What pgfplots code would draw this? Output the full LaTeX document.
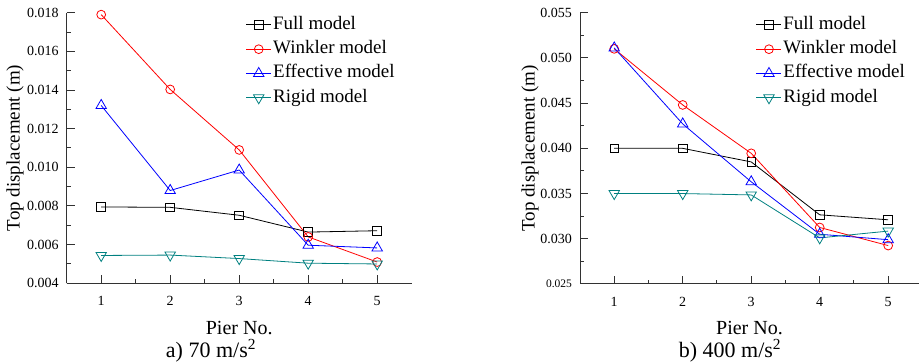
\documentclass[border=0pt]{standalone}
\usepackage{pgfplots}
\pgfplotsset{compat=1.18}
\usepackage{fontspec}
\setmainfont{Liberation Serif}
\definecolor{rigid}{RGB}{0,128,128}
\definecolor{axgray}{RGB}{50,50,50}
\newcommand{\fs}[1]{\fontsize{#1}{#1}\selectfont}

\pgfplotsset{
  mystyle/.style={
    scale only axis,
    axis x line*=bottom, axis y line*=left,
    axis line style={axgray, line width=1pt, -},
    every tick/.style={axgray, line width=1pt},
    tick align=inside,
    major tick length=8pt, minor tick length=4pt,
    minor x tick num=1, minor y tick num=1,
    xmin=0.5, xtick={1,2,3,4,5},
    scaled y ticks=false,
    /pgf/number format/assume math mode=true,
    tick label style={font=\fs{14}},
    y tick label style={/pgf/number format/fixed, /pgf/number format/fixed zerofill, /pgf/number format/precision=3, xshift=-4.5pt},
    x tick label style={yshift=-9.5pt},
    xlabel={Pier No.},
    ylabel={Top displacement (m)},
    xlabel style={font=\fs{20}, at={(axis description cs:0.5,0)}, anchor=center, yshift=-44.5pt},
    ylabel style={font=\fs{19}, anchor=center},
    legend cell align=left,
    legend style={draw=none, fill=none, font=\fs{19}, row sep=4.3pt,
      nodes={inner sep=1.5pt, text height=13pt, text depth=4pt}, anchor=north west},
    legend image code/.code={\draw[mark repeat=2,mark phase=2] plot coordinates {(0pt,0pt) (12.5pt,0pt) (25pt,0pt)};},
    every axis plot/.append style={line width=0.8pt},
  },
  fullm/.style={black, mark=square, mark size=4.3pt, mark options={fill=white, solid}},
  wink/.style={red, mark=o, mark size=4.4pt, mark options={fill=white, solid}},
  effm/.style={blue, mark=triangle, mark size=6pt, mark options={fill=white, solid}},
  rigm/.style={rigid, mark=triangle, mark size=6pt, mark options={fill=white, solid, rotate=180}},
}

\begin{document}
\begin{tikzpicture}[x=1pt,y=1pt]
\begin{axis}[mystyle, at={(66.7pt,80.7pt)}, anchor=south west,
  width=345pt, height=270.6pt,
  xmax=5.5, ymin=0.004, ymax=0.018,
  ytick={0.004,0.006,0.008,0.010,0.012,0.014,0.016,0.018},
  ylabel style={at={(axis description cs:-0.150,0.5)}},
  legend style={at={(0.51,1.0)}}]
\addplot[fullm] coordinates {(1,0.00795)(2,0.00793)(3,0.00752)(4,0.00665)(5,0.00672)};
\addlegendentry{Full model}
\addplot[wink] coordinates {(1,0.0179)(2,0.01403)(3,0.0109)(4,0.0064)(5,0.0051)};
\addlegendentry{Winkler model}
\addplot[effm] coordinates {(1,0.0132)(2,0.0088)(3,0.00986)(4,0.00597)(5,0.00583)};
\addlegendentry{Effective model}
\addplot[rigm] coordinates {(1,0.00544)(2,0.00546)(3,0.00528)(4,0.00504)(5,0.00500)};
\addlegendentry{Rigid model}
\end{axis}
\node[font=\fs{22}] at (211,13) {a) 70 m/s\textsuperscript{2}};

\begin{axis}[mystyle, at={(580pt,80pt)}, anchor=south west,
  width=339pt, height=271.3pt,
  xmax=5.45, ymin=0.025, ymax=0.055,
  ytick={0.025,0.030,0.035,0.040,0.045,0.050,0.055},
  yticklabels={{\fs{11.5}0.025},0.030,0.035,0.040,0.045,0.050,0.055},
  ylabel style={at={(axis description cs:-0.1475,0.5)}},
  legend style={at={(0.51,1.0)}}]
\addplot[fullm] coordinates {(1,0.0400)(2,0.0400)(3,0.0385)(4,0.03265)(5,0.0321)};
\addlegendentry{Full model}
\addplot[wink] coordinates {(1,0.0510)(2,0.0448)(3,0.03945)(4,0.03125)(5,0.02925)};
\addlegendentry{Winkler model}
\addplot[effm] coordinates {(1,0.0511)(2,0.0427)(3,0.0363)(4,0.0305)(5,0.0299)};
\addlegendentry{Effective model}
\addplot[rigm] coordinates {(1,0.0350)(2,0.0350)(3,0.03485)(4,0.0301)(5,0.03085)};
\addlegendentry{Rigid model}
\end{axis}
\node[font=\fs{22}] at (730,13) {b) 400 m/s\textsuperscript{2}};

\pgfresetboundingbox
\path[use as bounding box] (0,0) rectangle (919,364);
\end{tikzpicture}
\end{document}
